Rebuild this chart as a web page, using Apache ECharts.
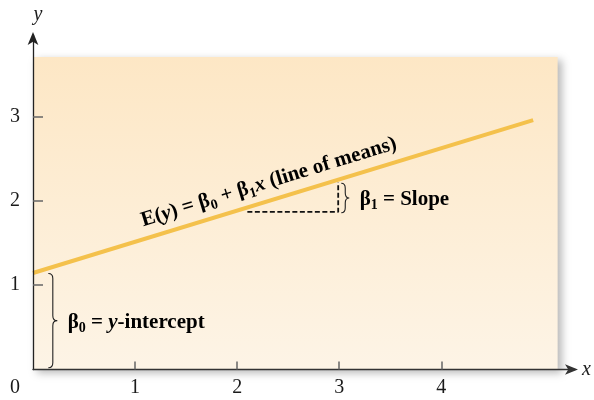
<!DOCTYPE html>
<html>
<head>
<meta charset="utf-8">
<script src="https://cdn.jsdelivr.net/npm/echarts@6/dist/echarts.min.js"></script>
<style>
  html, body { margin: 0; padding: 0; background: #ffffff; }
  #chart { width: 594px; height: 400px; }
</style>
</head>
<body>
<div id="chart"></div>
<script>
// Axis ticks and labels
const xTickValues = [1, 2, 3, 4];
const xLabelValues = [0, 1, 2, 3, 4];
const yTickValues = [1, 2, 3];

// Line of means E(y) = b0 + b1 x, given by its two end points
const meanLineX = [0, 4.9];
const meanLineY = [1.145, 2.96];
const meanLabelPos = [2.36, 2.03];

// One-unit run under the line and the rise it produces
const slopeRunX = [2.1, 2.99, 2.99];
const slopeRunY = [1.87, 1.87, 2.22];

// Shaded region behind the line
const panelX = [0, 5.14];
const panelY = [0, 3.71];

// Braces and their captions
const interceptBraceX = 0.15;
const interceptBraceY = [0.02, 1.14];
const interceptLabelPos = [0.34, 0.56];
const slopeBraceX = 3.02;
const slopeBraceY = [1.86, 2.21];
const slopeLabelPos = [3.2, 2.02];

const SERIF = '"Liberation Serif", "DejaVu Serif", serif';
const INK = '#1a1a1a';

const chart = echarts.init(document.getElementById('chart'), null, { renderer: 'canvas' });

const richSub = {
  t: { fontFamily: SERIF, fontSize: 21, fontWeight: 'bold', color: INK, lineHeight: 26, verticalAlign: 'middle' },
  i: { fontFamily: SERIF, fontSize: 21, fontWeight: 'bold', fontStyle: 'italic', color: INK, lineHeight: 26, verticalAlign: 'middle' },
  s: { fontFamily: SERIF, fontSize: 14, fontWeight: 'bold', color: INK, lineHeight: 12, verticalAlign: 'bottom' }
};

function bracePath(x, top, bot, w) {
  const h = w / 2;
  const mid = (top + bot) / 2;
  const r = Math.min(5, (bot - top) / 5);
  return 'M' + x + ',' + top +
    ' Q' + (x + h) + ',' + top + ' ' + (x + h) + ',' + (top + r) +
    ' L' + (x + h) + ',' + (mid - r) +
    ' Q' + (x + h) + ',' + mid + ' ' + (x + w) + ',' + mid +
    ' Q' + (x + h) + ',' + mid + ' ' + (x + h) + ',' + (mid + r) +
    ' L' + (x + h) + ',' + (bot - r) +
    ' Q' + (x + h) + ',' + bot + ' ' + x + ',' + bot;
}

const option = {
  animation: false,
  backgroundColor: '#ffffff',
  grid: { left: 33, right: 19, top: 35, bottom: 30.5, containLabel: false },
  xAxis: {
    type: 'value', min: 0, max: 5.31, interval: 1, z: 5,
    name: 'x', nameLocation: 'end', nameGap: 7,
    nameTextStyle: { fontFamily: SERIF, fontSize: 20, fontStyle: 'italic', color: INK, verticalAlign: 'middle' },
    splitLine: { show: false },
    axisLine: { show: true, symbol: ['none', 'arrow'], symbolSize: [8, 13], symbolOffset: [0, 3], lineStyle: { color: '#333', width: 1.4 } },
    axisTick: { show: true, inside: true, length: 8, customValues: xTickValues, lineStyle: { color: '#666', width: 1.5 } },
    axisLabel: {
      customValues: xLabelValues, margin: 8,
      fontFamily: SERIF, fontSize: 20, color: INK,
      formatter: v => v === 0 ? '{z|0}' : String(v),
      rich: { z: { fontFamily: SERIF, fontSize: 20, color: INK, padding: [0, 36, 0, 0] } }
    }
  },
  yAxis: {
    type: 'value', min: 0, max: 3.97, interval: 1, z: 5,
    name: 'y', nameLocation: 'end', nameGap: 10,
    nameTextStyle: { fontFamily: SERIF, fontSize: 20, fontStyle: 'italic', color: INK, padding: [0, 0, 0, 10] },
    splitLine: { show: false },
    axisLine: { show: true, symbol: ['none', 'arrow'], symbolSize: [8, 13], symbolOffset: [0, 3], lineStyle: { color: '#222', width: 1.3 } },
    axisTick: { show: true, inside: true, length: 10, customValues: yTickValues, lineStyle: { color: '#666', width: 1.5 } },
    axisLabel: { customValues: yTickValues, margin: 13, fontFamily: SERIF, fontSize: 20, color: INK }
  },
  series: [
    {
      type: 'line',
      name: 'panel',
      z: 1,
      data: [],
      silent: true,
      markArea: {
        silent: true,
        itemStyle: {
          color: new echarts.graphic.LinearGradient(0, 0, 0, 1, [
            { offset: 0, color: '#fde7c5' },
            { offset: 1, color: '#fdf4e6' }
          ]),
          shadowBlur: 8, shadowOffsetX: 4, shadowOffsetY: 3, shadowColor: 'rgba(0,0,0,0.28)'
        },
        data: [[{ coord: [panelX[0], panelY[0]] }, { coord: [panelX[1], panelY[1]] }]]
      }
    },
    {
      type: 'line',
      name: 'line of means',
      z: 3,
      silent: true,
      symbol: 'none',
      lineStyle: { color: '#f4c14c', width: 4 },
      data: meanLineX.map((x, i) => [x, meanLineY[i]])
    },
    {
      type: 'line',
      name: 'slope run',
      z: 3,
      silent: true,
      symbol: 'none',
      lineStyle: { color: '#111', width: 1.8, type: [5, 2.5] },
      data: slopeRunX.map((x, i) => [x, slopeRunY[i]])
    },
    {
      type: 'custom',
      name: 'annotations',
      z: 4,
      silent: true,
      data: [[0, 0]],
      renderItem: function (params, api) {
        const children = [];

        // intercept brace
        const ia = api.coord([interceptBraceX, interceptBraceY[1]]);
        const ib = api.coord([interceptBraceX, interceptBraceY[0]]);
        children.push({ type: 'path', shape: { pathData: bracePath(ia[0], ia[1], ib[1], 9) },
          style: { fill: null, stroke: '#222', lineWidth: 1.1 } });

        // slope brace
        const sa = api.coord([slopeBraceX, slopeBraceY[1]]);
        const sb = api.coord([slopeBraceX, slopeBraceY[0]]);
        children.push({ type: 'path', shape: { pathData: bracePath(sa[0], sa[1], sb[1], 8) },
          style: { fill: null, stroke: '#222', lineWidth: 1.1 } });

        // captions
        const ip = api.coord(interceptLabelPos);
        children.push({ type: 'text', x: ip[0], y: ip[1],
          style: { text: '{t|β}{s|0}{t| = }{i|y}{t|-intercept}', rich: richSub, align: 'left', verticalAlign: 'middle' } });
        const sp = api.coord(slopeLabelPos);
        children.push({ type: 'text', x: sp[0], y: sp[1],
          style: { text: '{t|β}{s|1}{t| = Slope}', rich: richSub, align: 'left', verticalAlign: 'middle' } });

        // equation written along the line
        const p0 = api.coord([meanLineX[0], meanLineY[0]]);
        const p1 = api.coord([meanLineX[1], meanLineY[1]]);
        const angle = Math.atan2(p0[1] - p1[1], p1[0] - p0[0]);
        const mp = api.coord(meanLabelPos);
        children.push({ type: 'text', x: mp[0], y: mp[1], rotation: angle,
          style: { text: '{t|E(}{i|y}{t|) = β}{s|0}{t| + β}{s|1}{i|x}{t| (line of means)}', rich: richSub,
            x: 0, y: -4, align: 'center', verticalAlign: 'bottom' } });

        return { type: 'group', children: children };
      }
    }
  ]
};

chart.setOption(option);
</script>
</body>
</html>
